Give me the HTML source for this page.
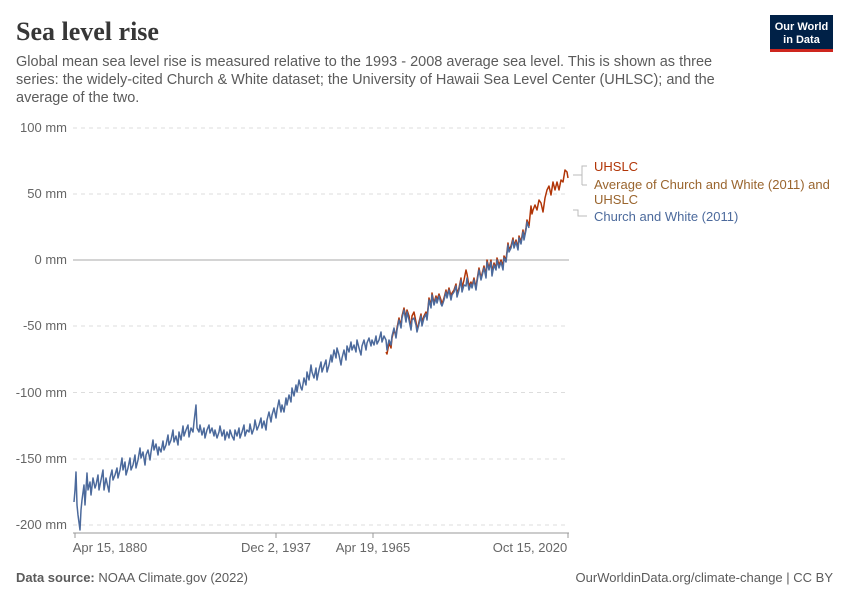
<!DOCTYPE html>
<html><head><meta charset="utf-8"><style>
body{margin:0;width:850px;height:600px;background:#fff;font-family:"Liberation Sans",sans-serif;overflow:hidden}
</style></head><body>
<svg width="850" height="600" xmlns="http://www.w3.org/2000/svg" font-family="Liberation Sans, sans-serif">
<text x="16" y="40" font-family="Liberation Serif, serif" font-size="26" font-weight="bold" fill="#373737">Sea level rise</text>
<text font-size="14.5" fill="#5b5b5b"><tspan x="16" y="66">Global mean sea level rise is measured relative to the 1993 - 2008 average sea level. This is shown as three</tspan><tspan x="16" y="84">series: the widely-cited Church &amp; White dataset; the University of Hawaii Sea Level Center (UHLSC); and the</tspan><tspan x="16" y="102">average of the two.</tspan></text>
<rect x="770" y="15" width="63" height="35" fill="#002147"/>
<rect x="770" y="49" width="63" height="3" fill="#ce261e"/>
<text x="801.5" y="30" font-size="11" font-weight="bold" fill="#fff" text-anchor="middle">Our World</text>
<text x="801.5" y="43" font-size="11" font-weight="bold" fill="#fff" text-anchor="middle">in Data</text>
<g stroke="#ddd" stroke-dasharray="4,4" stroke-width="1">
<line x1="73" x2="569" y1="128" y2="128"/><line x1="73" x2="569" y1="194" y2="194"/><line x1="73" x2="569" y1="326" y2="326"/><line x1="73" x2="569" y1="392.5" y2="392.5"/><line x1="73" x2="569" y1="459" y2="459"/><line x1="73" x2="569" y1="525" y2="525"/>
</g>
<line x1="73" x2="569" y1="260" y2="260" stroke="#aaa"/>
<g font-size="13" fill="#666" text-anchor="end">
<text x="67" y="132">100 mm</text><text x="67" y="198">50 mm</text><text x="67" y="264">0 mm</text><text x="67" y="330">-50 mm</text><text x="67" y="397">-100 mm</text><text x="67" y="463">-150 mm</text><text x="67" y="529">-200 mm</text>
</g>
<line x1="73" x2="569" y1="533" y2="533" stroke="#999"/>
<g stroke="#999"><line x1="75" x2="75" y1="533" y2="538"/><line x1="276" x2="276" y1="533" y2="538"/><line x1="373" x2="373" y1="533" y2="538"/><line x1="568" x2="568" y1="533" y2="538"/></g>
<g font-size="13" fill="#666" text-anchor="middle">
<text x="110" y="552">Apr 15, 1880</text><text x="276" y="552">Dec 2, 1937</text><text x="373" y="552">Apr 19, 1965</text><text x="530" y="552">Oct 15, 2020</text>
</g>
<polyline fill="none" stroke="#b13507" stroke-width="1.5" stroke-linejoin="round" points="386,352 387,354 389,343 391,348 392,338 394,330 396,336 397,328 399,318 401,326 402,316 404,308 406,318 407,310 409,316 411,328 412,316 414,312 416,322 417,330 419,322 421,314 422,322 424,316 426,312 427,318 429,298 431,306 432,293 434,303 436,296 437,300 439,294 441,300 442,304 444,298 446,290 447,296 449,288 451,296 452,293 454,290 456,284 457,294 459,288 461,278 462,288 464,280 466,270 467,274 469,286 471,282 472,286 474,278 476,288 477,280 479,268 481,278 482,274 484,266 486,276 487,260 489,268 491,260 492,272 494,263 496,268 497,258 499,265 501,260 503,266 504,256 506,260 508,243 509,250 511,246 513,238 514,246 516,240 518,248 519,236 521,242 523,230 524,238 526,228 527,220 529,226 531,206 532,214 533,210 535,205 537,210 539,200 541,203 543,212 545,198 547,190 549,186 551,195 553,182 555,190 557,182 559,190 561,180 563,182 565,170 567,172 568,178"/>
<polyline fill="none" stroke="#4c6a9c" stroke-width="1.5" stroke-linejoin="round" points="74,502 75,490 76,472 77,505 78,515 80,530 81,510 82,500 84,485 85,505 87,473 88,490 90,482 91,495 93,478 95,488 96,485 98,475 99,490 101,480 103,470 104,490 106,478 107,483 109,492 110,478 112,470 113,480 115,475 117,468 118,478 120,470 122,458 123,470 125,462 126,475 128,468 130,458 131,470 133,465 135,455 136,468 138,460 140,448 141,458 143,452 145,465 146,455 148,450 150,460 151,452 153,440 154,450 156,444 158,455 159,447 161,452 163,441 164,450 166,445 168,435 169,445 171,440 173,430 174,442 176,436 178,445 179,432 181,440 183,426 184,436 186,430 188,425 189,437 191,428 193,432 194,422 196,405 197,428 199,432 200,425 202,435 204,428 205,438 207,430 209,425 210,433 212,428 214,436 215,430 217,438 219,432 220,426 222,436 224,430 225,440 227,432 229,438 230,430 232,436 234,440 235,430 237,436 239,428 240,438 242,432 244,425 245,436 247,430 249,432 250,424 252,434 254,428 255,420 257,430 259,425 261,418 262,428 264,421 266,430 267,420 269,412 271,422 272,415 274,408 276,418 277,410 279,400 281,412 282,405 284,412 286,398 287,405 289,395 291,402 292,388 294,396 296,385 297,392 299,380 301,388 302,390 304,378 306,385 307,372 309,380 311,365 312,372 314,378 316,368 317,380 319,370 321,362 322,372 324,366 326,360 327,372 329,365 331,355 332,362 334,350 336,358 337,348 339,355 341,365 342,358 344,350 346,360 347,346 349,352 351,342 352,350 354,345 356,352 357,340 359,348 361,355 362,346 364,340 366,350 367,343 369,338 371,346 372,340 374,345 376,336 377,344 379,340 381,332 382,342 384,336 386,340 387,350 389,340 391,345 392,336 394,328 396,338 397,330 399,320 401,328 402,318 404,310 406,322 407,312 409,320 411,330 412,320 414,318 416,325 417,332 419,324 421,316 422,326 424,318 426,314 427,320 429,300 431,308 432,295 434,305 436,298 437,303 439,296 441,304 442,306 444,300 446,292 447,298 449,290 451,300 452,295 454,292 456,286 457,297 459,290 461,280 462,292 464,285 466,286 467,278 469,290 471,284 472,288 474,280 476,290 477,282 479,270 481,280 482,276 484,268 486,278 487,262 489,270 491,262 492,276 494,265 496,270 497,260 499,268 501,262 503,270 504,258 506,262 508,245 509,252 511,248 513,240 514,248 516,242 518,250 519,238 521,244 523,232 524,240 526,230 527,222 529,228"/>
<g fill="none" stroke="#bbb"><polyline points="573,175 582,175 582,166 587,166"/><line x1="582" x2="582" y1="175" y2="185"/><line x1="582" x2="587" y1="185" y2="185"/><polyline points="573,210 578,210 578,216 587,216"/></g>
<text x="594" y="171" font-size="13" fill="#b13507">UHSLC</text>
<text font-size="13" fill="#9a652e"><tspan x="594" y="189">Average of Church and White (2011) and</tspan><tspan x="594" y="204">UHSLC</tspan></text>
<text x="594" y="221" font-size="13" fill="#4c6a9c">Church and White (2011)</text>
<text x="16" y="582" font-size="13" fill="#5b5b5b"><tspan font-weight="bold">Data source:</tspan> NOAA Climate.gov (2022)</text>
<text x="833" y="582" font-size="13" fill="#5b5b5b" text-anchor="end">OurWorldinData.org/climate-change | CC BY</text>
</svg>
</body></html>
